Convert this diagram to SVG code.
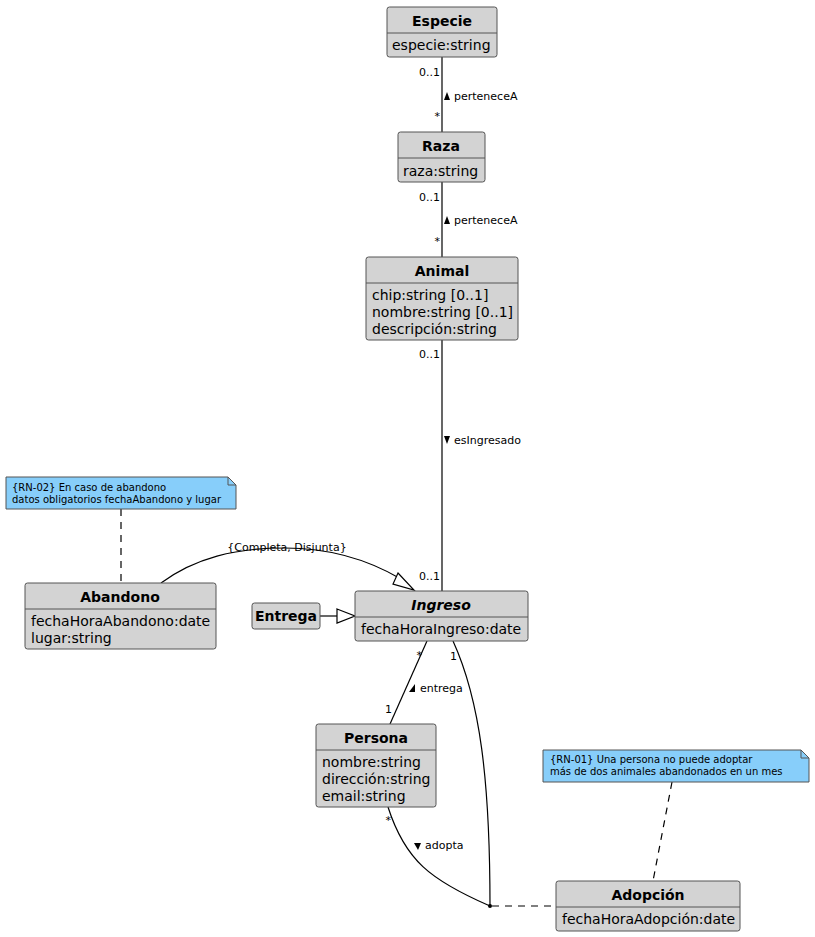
<svg xmlns="http://www.w3.org/2000/svg" width="815" height="937" viewBox="0 0 815 937">
<style>
.box{fill:#d3d3d3;stroke:#555;stroke-width:1}
.sep{stroke:#555;stroke-width:1}
.t{font-family:"DejaVu Sans",sans-serif;font-size:14px;fill:#000}
.b{font-weight:bold;text-anchor:middle}
.s{font-family:"DejaVu Sans",sans-serif;font-size:11px;fill:#000}
.n{font-family:"DejaVu Sans",sans-serif;font-size:10px;fill:#000}
.note{fill:#87cefa;stroke:#555;stroke-width:1}
.ln{fill:none;stroke:#000;stroke-width:1.2}
.dash{fill:none;stroke:#000;stroke-width:1.2;stroke-dasharray:7,6}
</style>
<rect width="815" height="937" fill="#fff"/>
<g id="connectors">
  <line class="ln" x1="442" y1="57" x2="442" y2="132"/>
  <text class="s" x="440" y="76" text-anchor="end">0..1</text>
  <text class="s" x="440" y="120" text-anchor="end">*</text>
  <polygon points="444,100 447,92 450,100" fill="#000"/>
  <text class="s" x="454" y="100">perteneceA</text>

  <line class="ln" x1="442" y1="182" x2="442" y2="257"/>
  <text class="s" x="440" y="201" text-anchor="end">0..1</text>
  <text class="s" x="440" y="245" text-anchor="end">*</text>
  <polygon points="444,224 447,216 450,224" fill="#000"/>
  <text class="s" x="454" y="224">perteneceA</text>

  <line class="ln" x1="442" y1="340" x2="442" y2="591"/>
  <text class="s" x="440" y="358" text-anchor="end">0..1</text>
  <polygon points="444,436 450,436 447,444" fill="#000"/>
  <text class="s" x="454" y="444">esIngresado</text>
  <text class="s" x="440" y="580" text-anchor="end">0..1</text>

  <line class="dash" x1="121" y1="509" x2="121" y2="583"/>
  <path class="ln" d="M161,583 C195,558 235,548 285,548 C335,548 372,562 401,579"/>
  <polygon points="398,573 414,590 393,584" fill="#fff" stroke="#000" stroke-width="1.2"/>
  <text class="s" x="287" y="551" text-anchor="middle">{Completa, Disjunta}</text>

  <line class="ln" x1="320" y1="616" x2="337" y2="616"/>
  <polygon points="337,609 355,616 337,623" fill="#fff" stroke="#000" stroke-width="1.2"/>

  <line class="ln" x1="427" y1="641" x2="390" y2="724"/>
  <text class="s" x="422" y="659" text-anchor="end">*</text>
  <text class="s" x="392" y="713" text-anchor="end">1</text>
  <polygon points="409,692 415,684 415,692" fill="#000"/>
  <text class="s" x="420" y="692">entrega</text>

  <path class="ln" d="M453,641 C480,700 490,780 490,906"/>
  <text class="s" x="457" y="660" text-anchor="end">1</text>
  <path class="ln" d="M388,807 C405,860 430,880 490,906"/>
  <text class="s" x="391" y="824" text-anchor="end">*</text>
  <polygon points="414,843 421,843 418,850" fill="#000"/>
  <text class="s" x="425" y="849">adopta</text>
  <circle cx="490" cy="906" r="2" fill="#000"/>
  <line class="dash" x1="492" y1="906" x2="556" y2="906"/>

  <line class="dash" x1="672" y1="782" x2="653" y2="881"/>
</g>
<g id="Especie">
  <rect class="box" x="387" y="7" width="110" height="50" rx="2.5"/>
  <line class="sep" x1="387" y1="33" x2="497" y2="33"/>
  <text class="t b" x="442" y="26">Especie</text>
  <text class="t" x="392" y="50">especie:string</text>
</g>
<g id="Raza">
  <rect class="box" x="398" y="132" width="87" height="50" rx="2.5"/>
  <line class="sep" x1="398" y1="158" x2="485" y2="158"/>
  <text class="t b" x="441" y="151">Raza</text>
  <text class="t" x="403" y="176">raza:string</text>
</g>
<g id="Animal">
  <rect class="box" x="366" y="257" width="152" height="83" rx="2.5"/>
  <line class="sep" x1="366" y1="283" x2="518" y2="283"/>
  <text class="t b" x="442" y="276">Animal</text>
  <text class="t" x="372" y="300">chip:string [0..1]</text>
  <text class="t" x="372" y="317">nombre:string [0..1]</text>
  <text class="t" x="372" y="334">descripción:string</text>
</g>
<g id="NoteRN02">
  <path class="note" d="M6,477 H228 L236,485 V509 H6 Z"/>
  <path d="M228,477 V485 H236" fill="none" stroke="#555"/>
  <text class="n" x="12" y="491">{RN-02} En caso de abandono</text>
  <text class="n" x="12" y="503">datos obligatorios fechaAbandono y lugar</text>
</g>
<g id="Abandono">
  <rect class="box" x="25" y="583" width="191" height="66" rx="2.5"/>
  <line class="sep" x1="25" y1="609" x2="216" y2="609"/>
  <text class="t b" x="120" y="602">Abandono</text>
  <text class="t" x="31" y="626">fechaHoraAbandono:date</text>
  <text class="t" x="31" y="643">lugar:string</text>
</g>
<g id="Entrega">
  <rect class="box" x="252" y="603" width="68" height="26" rx="2.5"/>
  <text class="t b" x="286" y="621">Entrega</text>
</g>
<g id="Ingreso">
  <rect class="box" x="355" y="591" width="173" height="50" rx="2.5"/>
  <line class="sep" x1="355" y1="617" x2="528" y2="617"/>
  <text class="t b" x="441" y="610" font-style="italic">Ingreso</text>
  <text class="t" x="361" y="634">fechaHoraIngreso:date</text>
</g>
<g id="Persona">
  <rect class="box" x="316" y="724" width="120" height="83" rx="2.5"/>
  <line class="sep" x1="316" y1="750" x2="436" y2="750"/>
  <text class="t b" x="376" y="743">Persona</text>
  <text class="t" x="322" y="767">nombre:string</text>
  <text class="t" x="322" y="784">dirección:string</text>
  <text class="t" x="322" y="801">email:string</text>
</g>
<g id="NoteRN01">
  <path class="note" d="M543,750 H801 L809,758 V782 H543 Z"/>
  <path d="M801,750 V758 H809" fill="none" stroke="#555"/>
  <text class="n" x="550" y="763">{RN-01} Una persona no puede adoptar</text>
  <text class="n" x="550" y="775">más de dos animales abandonados en un mes</text>
</g>
<g id="Adopcion">
  <rect class="box" x="556" y="881" width="184" height="50" rx="2.5"/>
  <line class="sep" x1="556" y1="907" x2="740" y2="907"/>
  <text class="t b" x="648" y="900">Adopción</text>
  <text class="t" x="562" y="924">fechaHoraAdopción:date</text>
</g>
</svg>
